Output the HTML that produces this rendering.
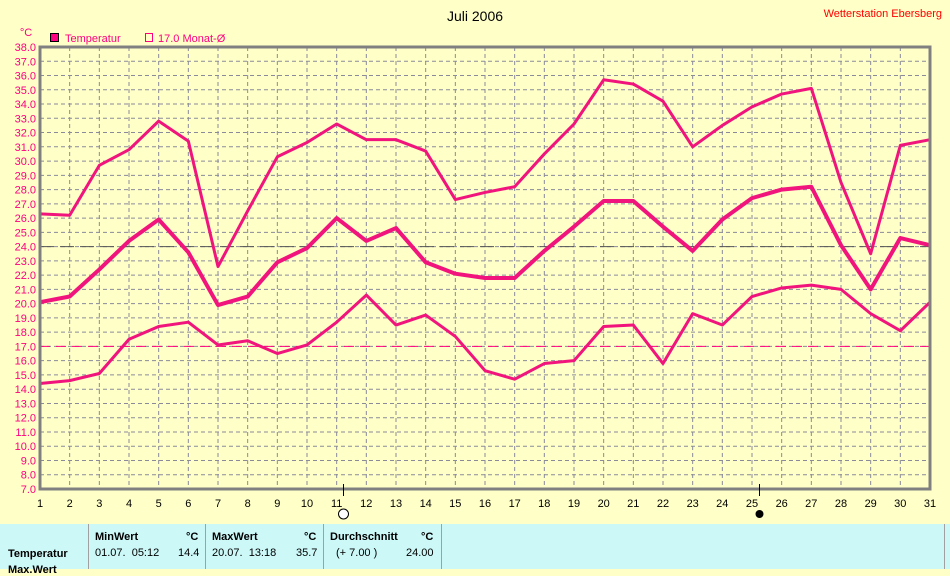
<!DOCTYPE html>
<html><head><meta charset="utf-8"><style>
body{margin:0;width:950px;height:569px;overflow:hidden;background:#ffffc8;font-family:"Liberation Sans",sans-serif;position:relative}
svg{position:absolute;left:0;top:0}
.tb{position:absolute;left:0;top:524px;width:950px;height:45px;background:#ccf8f8;font-size:11px;color:#000}
.tb div{position:absolute}
.v{position:absolute;top:0;width:1px;height:45px;background:#a0a0a0}
</style></head><body>
<svg width="950" height="524" font-family="Liberation Sans, sans-serif">
<text x="475" y="21" font-size="14" text-anchor="middle">Juli 2006</text>
<text x="942" y="17" font-size="11" fill="#ff0000" text-anchor="end">Wetterstation Ebersberg</text>
<text x="26" y="36" font-size="11" fill="#ff0080" text-anchor="middle">°C</text>
<rect x="50.5" y="33.5" width="8" height="8" fill="#ff0080" stroke="#000"/>
<text x="65" y="42" font-size="11" fill="#ff0080">Temperatur</text>
<rect x="145.5" y="33.5" width="7" height="8" fill="none" stroke="#ff0080"/>
<text x="158" y="42" font-size="11" fill="#ff0080">17.0 Monat-Ø</text>
<g id="grid" stroke="#8a8a9a" stroke-width="1" stroke-dasharray="4,3"></g>
<line x1="40" y1="246.6" x2="930" y2="246.6" stroke="#555" stroke-dasharray="14,6"/>
<line x1="40" y1="346.4" x2="930" y2="346.4" stroke="#ff0080" stroke-dasharray="10,6"/>
<g id="lines" fill="none" stroke="#f0147c" stroke-linejoin="round"></g>
<rect x="40" y="47" width="890" height="442" fill="none" stroke="#808080" stroke-width="3"/>
<g font-size="11" fill="#ff0080" text-anchor="end">
<text x="36" y="51">38.0</text><text x="36" y="65.3">37.0</text><text x="36" y="79.5">36.0</text><text x="36" y="93.8">35.0</text><text x="36" y="108">34.0</text><text x="36" y="122.3">33.0</text><text x="36" y="136.5">32.0</text><text x="36" y="150.8">31.0</text><text x="36" y="165.1">30.0</text><text x="36" y="179.3">29.0</text><text x="36" y="193.6">28.0</text><text x="36" y="207.8">27.0</text><text x="36" y="222.1">26.0</text><text x="36" y="236.4">25.0</text><text x="36" y="250.6">24.0</text><text x="36" y="264.9">23.0</text><text x="36" y="279.1">22.0</text><text x="36" y="293.4">21.0</text><text x="36" y="307.6">20.0</text><text x="36" y="321.9">19.0</text><text x="36" y="336.2">18.0</text><text x="36" y="350.4">17.0</text><text x="36" y="364.7">16.0</text><text x="36" y="378.9">15.0</text><text x="36" y="393.2">14.0</text><text x="36" y="407.5">13.0</text><text x="36" y="421.7">12.0</text><text x="36" y="436">11.0</text><text x="36" y="450.2">10.0</text><text x="36" y="464.5">9.0</text><text x="36" y="478.7">8.0</text><text x="36" y="493">7.0</text>
</g>
<g font-size="11" fill="#000" text-anchor="middle">
<text x="40" y="507">1</text><text x="69.7" y="507">2</text><text x="99.3" y="507">3</text><text x="129" y="507">4</text><text x="158.7" y="507">5</text><text x="188.3" y="507">6</text><text x="218" y="507">7</text><text x="247.7" y="507">8</text><text x="277.3" y="507">9</text><text x="307" y="507">10</text><text x="336.7" y="507">11</text><text x="366.3" y="507">12</text><text x="396" y="507">13</text><text x="425.7" y="507">14</text><text x="455.3" y="507">15</text><text x="485" y="507">16</text><text x="514.7" y="507">17</text><text x="544.3" y="507">18</text><text x="574" y="507">19</text><text x="603.7" y="507">20</text><text x="633.3" y="507">21</text><text x="663" y="507">22</text><text x="692.7" y="507">23</text><text x="722.3" y="507">24</text><text x="752" y="507">25</text><text x="781.7" y="507">26</text><text x="811.3" y="507">27</text><text x="841" y="507">28</text><text x="870.7" y="507">29</text><text x="900.3" y="507">30</text><text x="930" y="507">31</text>
</g>
<line x1="343.5" y1="484" x2="343.5" y2="496" stroke="#000"/>
<circle cx="343.5" cy="514" r="5" fill="#fff" stroke="#000"/>
<line x1="759.5" y1="484" x2="759.5" y2="496" stroke="#000"/>
<circle cx="759.5" cy="514" r="4" fill="#000"/>
</svg>
<div class="tb">
<div class="v" style="left:88px"></div><div class="v" style="left:205px"></div><div class="v" style="left:323px"></div><div class="v" style="left:441px"></div><div class="v" style="left:944px"></div>
<div style="left:95px;top:7px;font-weight:bold">MinWert</div><div style="left:186px;top:7px;font-weight:bold">°C</div>
<div style="left:212px;top:7px;font-weight:bold">MaxWert</div><div style="left:304px;top:7px;font-weight:bold">°C</div>
<div style="left:330px;top:7px;font-weight:bold">Durchschnitt</div><div style="left:421px;top:7px;font-weight:bold">°C</div>
<div style="left:8px;top:24px;font-weight:bold">Temperatur</div>
<div style="left:95px;top:23px">01.07.&nbsp; 05:12</div><div style="left:178px;top:23px">14.4</div>
<div style="left:212px;top:23px">20.07.&nbsp; 13:18</div><div style="left:296px;top:23px">35.7</div>
<div style="left:336px;top:23px">(+ 7.00 )</div><div style="left:406px;top:23px">24.00</div>
<div style="left:8px;top:40px;font-weight:bold">Max.Wert</div>
</div>
<script>
var X=function(d){return 40+(d-1)*890/30},Y=function(v){return 47+(38-v)*442/31};
var g=document.getElementById('grid'),s='';
for(var k=1;k<31;k++){var y=47+k*442/31;s+='<line x1="40" y1="'+y+'" x2="930" y2="'+y+'"/>';}
for(var d=2;d<31;d++){s+='<line x1="'+X(d)+'" y1="47" x2="'+X(d)+'" y2="489"/>';}
g.innerHTML=s;
var mx=[26.3,26.2,29.7,30.8,32.8,31.4,22.6,26.5,30.3,31.3,32.6,31.5,31.5,30.7,27.3,27.8,28.2,30.5,32.6,35.7,35.4,34.2,31.0,32.5,33.8,34.7,35.1,28.5,23.5,31.1,31.5];
var av=[20.1,20.5,22.4,24.4,25.9,23.6,19.9,20.5,22.9,23.9,26.0,24.4,25.3,22.9,22.1,21.8,21.8,23.7,25.4,27.2,27.2,25.4,23.7,25.9,27.4,28.0,28.2,24.1,21.0,24.6,24.1];
var mn=[14.4,14.6,15.1,17.5,18.4,18.7,17.1,17.4,16.5,17.1,18.7,20.6,18.5,19.2,17.7,15.3,14.7,15.8,16.0,18.4,18.5,15.8,19.3,18.5,20.5,21.1,21.3,21.0,19.3,18.1,20.1];
function pl(a,w){return '<polyline stroke-width="'+w+'" points="'+a.map(function(v,i){return X(i+1)+','+Y(v)}).join(' ')+'"/>';}
document.getElementById('lines').innerHTML=pl(mx,3)+pl(av,4)+pl(mn,3);
</script>
</body></html>
